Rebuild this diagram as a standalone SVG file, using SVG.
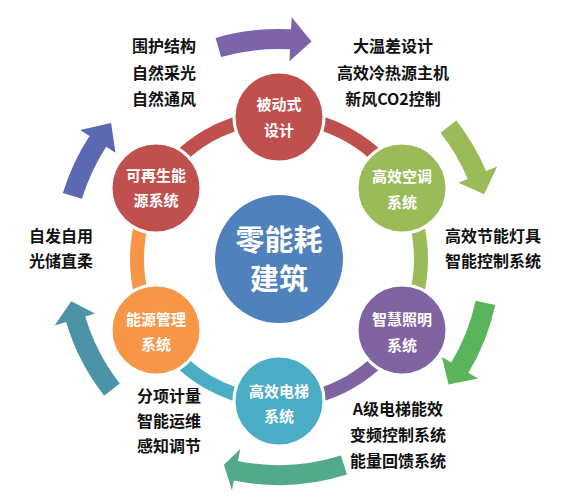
<svg xmlns="http://www.w3.org/2000/svg" width="581" height="498" viewBox="0 0 581 498">
<style>
.ring{fill:none;stroke-width:14}
.node{stroke:#ffffff;stroke-width:3}
.nt{font-family:"Noto Sans CJK SC","Liberation Sans",sans-serif;font-size:15px;font-weight:bold;fill:#ffffff;text-anchor:middle;dominant-baseline:central}
.ct{font-family:"Noto Sans CJK SC","Liberation Sans",sans-serif;font-size:29px;font-weight:bold;fill:#ffffff;text-anchor:middle;dominant-baseline:central}
.lb{font-family:"Noto Sans CJK SC","Liberation Sans",sans-serif;font-size:16px;font-weight:bold;fill:#111111;text-anchor:middle;dominant-baseline:central}
</style>
<rect width="581" height="498" fill="#ffffff"/>
<g id="outer-arrows">
<path fill="#7d64a8" d="M215.6 37.9 A230 230 0 0 1 291.0 29.3 L291.7 17.3 L311.5 41.4 L289.4 61.3 L290.0 49.3 A210 210 0 0 0 221.1 57.1 Z"/>
<path fill="#9bbb59" d="M456.3 120.5 A225 225 0 0 1 486.1 171.1 L497.2 166.4 L484.1 194.3 L458.5 182.8 L467.7 178.9 A205 205 0 0 0 440.5 132.8 Z"/>
<path fill="#5ab45b" d="M495.2 304.9 A221 221 0 0 1 468.4 372.8 L477.9 378.5 L448.6 384.5 L441.9 356.9 L451.3 362.5 A201 201 0 0 0 475.6 300.8 Z"/>
<path fill="#52aa8b" d="M347.0 474.5 A226 226 0 0 1 233.9 480.5 L231.9 490.3 L223.9 464.7 L240.3 449.1 L237.9 460.9 A206 206 0 0 0 340.9 455.5 Z"/>
<path fill="#4c93a8" d="M104.1 395.7 A222 222 0 0 1 66.1 322.1 L54.6 325.5 L71.3 301.3 L94.9 313.5 L85.3 316.4 A202 202 0 0 0 119.8 383.4 Z"/>
<path fill="#5a69b2" d="M62.9 192.9 A226 226 0 0 1 89.5 135.9 L80.2 129.9 L111.1 123.1 L115.5 152.8 L106.2 146.8 A206 206 0 0 0 82.0 198.8 Z"/>
</g>
<g id="connectors">
<path class="ring" stroke="#c0504d" d="M279 117 A142 142 0 0 1 402.0 188"/>
<path class="ring" stroke="#9bbb59" d="M402.0 188 A142 142 0 0 1 402.0 330"/>
<path class="ring" stroke="#8064a2" d="M402.0 330 A142 142 0 0 1 279 401"/>
<path class="ring" stroke="#4bacc6" d="M279 401 A142 142 0 0 1 156.0 330"/>
<path class="ring" stroke="#f79646" d="M156.0 330 A142 142 0 0 1 156.0 188"/>
<path class="ring" stroke="#c0504d" d="M156.0 188 A142 142 0 0 1 279 117"/>
</g>
<g id="center">
<circle cx="279" cy="259" r="64" fill="#4f81bd"/>
<text class="ct" x="279" y="238">零能耗</text>
<text class="ct" x="279" y="277">建筑</text>
</g>
<g id="node-passive">
<circle class="node" cx="279" cy="117" r="45" fill="#c0504d"/>
<text class="nt" x="279" y="103">被动式</text>
<text class="nt" x="279" y="129">设计</text>
</g>
<g id="node-hvac">
<circle class="node" cx="402" cy="188" r="45" fill="#9bbb59"/>
<text class="nt" x="402" y="175">高效空调</text>
<text class="nt" x="402" y="201">系统</text>
</g>
<g id="node-lighting">
<circle class="node" cx="402" cy="330" r="45" fill="#8064a2"/>
<text class="nt" x="402" y="318">智慧照明</text>
<text class="nt" x="402" y="344">系统</text>
</g>
<g id="node-elevator">
<circle class="node" cx="279" cy="401" r="45" fill="#4bacc6"/>
<text class="nt" x="279" y="390">高效电梯</text>
<text class="nt" x="279" y="415">系统</text>
</g>
<g id="node-energy">
<circle class="node" cx="156" cy="330" r="45" fill="#f79646"/>
<text class="nt" x="156" y="318">能源管理</text>
<text class="nt" x="156" y="343">系统</text>
</g>
<g id="node-renewable">
<circle class="node" cx="156" cy="188" r="45" fill="#c0504d"/>
<text class="nt" x="156" y="174">可再生能</text>
<text class="nt" x="156" y="199">源系统</text>
</g>
<g id="labels">
<text class="lb" x="164" y="45">围护结构</text>
<text class="lb" x="164" y="72">自然采光</text>
<text class="lb" x="164" y="98">自然通风</text>
<text class="lb" x="393" y="45">大温差设计</text>
<text class="lb" x="393" y="72">高效冷热源主机</text>
<text class="lb" x="393" y="98">新风CO2控制</text>
<text class="lb" x="493" y="235">高效节能灯具</text>
<text class="lb" x="493" y="260">智能控制系统</text>
<text class="lb" x="61" y="235">自发自用</text>
<text class="lb" x="61" y="260">光储直柔</text>
<text class="lb" x="169" y="395">分项计量</text>
<text class="lb" x="169" y="420">智能运维</text>
<text class="lb" x="169" y="445">感知调节</text>
<text class="lb" x="398" y="408">A级电梯能效</text>
<text class="lb" x="398" y="434">变频控制系统</text>
<text class="lb" x="398" y="460">能量回馈系统</text>
</g>
</svg>
